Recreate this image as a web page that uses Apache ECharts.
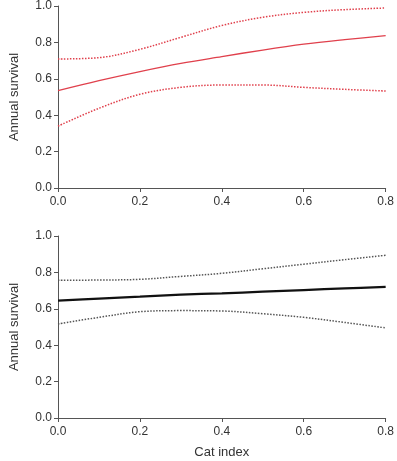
<!DOCTYPE html>
<html>
<head>
<meta charset="utf-8">
<script src="https://cdn.jsdelivr.net/npm/echarts@6/dist/echarts.min.js"></script>
<style>
  html, body { margin: 0; padding: 0; background: #fff; }
  #chart { width: 397px; height: 461px; }
</style>
</head>
<body>
<div id="chart"></div>
<script>
// cat index values where the curves were read
var catIndex = [0, 0.1, 0.2, 0.3, 0.4, 0.5, 0.6, 0.7, 0.8];

// top panel (red)
var topMean  = [0.535, 0.59, 0.64, 0.685, 0.722, 0.758, 0.79, 0.815, 0.837];
var topUpper = [0.709, 0.716, 0.762, 0.828, 0.893, 0.938, 0.965, 0.98, 0.989];
var topLower = [0.34, 0.438, 0.515, 0.553, 0.566, 0.566, 0.553, 0.542, 0.533];

// bottom panel (black)
var botMean  = [0.645, 0.656, 0.667, 0.678, 0.685, 0.694, 0.703, 0.712, 0.72];
var botUpper = [0.757, 0.758, 0.762, 0.778, 0.795, 0.82, 0.845, 0.87, 0.894];
var botLower = [0.517, 0.553, 0.584, 0.59, 0.588, 0.573, 0.553, 0.525, 0.495];

function pairs(vals) {
    return catIndex.map(function (x, i) { return [x, vals[i]]; });
}

var chart = echarts.init(document.getElementById('chart'));

var axisColor = '#555';
var labelFont = { color: '#333', fontSize: 12, fontFamily: 'Liberation Sans' };

function xAxis(idx, withName) {
    return {
        type: 'value', gridIndex: idx, min: 0, max: 0.8, interval: 0.2,
        name: withName ? 'Cat index' : '',
        nameLocation: 'middle', nameGap: 28,
        nameTextStyle: { color: '#333', fontSize: 13, fontFamily: 'Liberation Sans' },
        axisLine: { show: true, lineStyle: { color: axisColor, width: 1 } },
        axisTick: { show: true, length: 4, lineStyle: { color: axisColor } },
        axisLabel: Object.assign({ margin: 8, formatter: function (v) { return v.toFixed(1); } }, labelFont),
        splitLine: { show: false }
    };
}

function yAxis(idx) {
    return {
        type: 'value', gridIndex: idx, min: 0, max: 1, interval: 0.2,
        name: 'Annual survival',
        nameLocation: 'middle', nameGap: 37,
        nameTextStyle: { color: '#333', fontSize: 13, fontFamily: 'Liberation Sans' },
        axisLine: { show: true, lineStyle: { color: axisColor, width: 1 } },
        axisTick: { show: true, length: 4, lineStyle: { color: axisColor } },
        axisLabel: Object.assign({ margin: 6, formatter: function (v) { return v.toFixed(1); } }, labelFont),
        splitLine: { show: false }
    };
}

function line(idx, vals, color, width, type) {
    return {
        type: 'line', xAxisIndex: idx, yAxisIndex: idx,
        data: pairs(vals), smooth: 0.35, showSymbol: false, silent: true,
        lineStyle: { color: color, width: width, type: type }
    };
}

var red = '#e0404c';

var option = {
    animation: false,
    grid: [
        { left: 53, right: 9, top: 6, height: 182 },
        { left: 53, right: 9, top: 236, height: 182 }
    ],
    xAxis: [xAxis(0, false), xAxis(1, true)],
    yAxis: [yAxis(0), yAxis(1)],
    series: [
        line(0, topUpper, red, 1.5, 'dotted'),
        line(0, topMean, red, 1.3, 'solid'),
        line(0, topLower, red, 1.5, 'dotted'),
        line(1, botUpper, '#555', 1.5, 'dotted'),
        line(1, botMean, '#111', 2.2, 'solid'),
        line(1, botLower, '#555', 1.5, 'dotted')
    ]
};

chart.setOption(option);
</script>
</body>
</html>
